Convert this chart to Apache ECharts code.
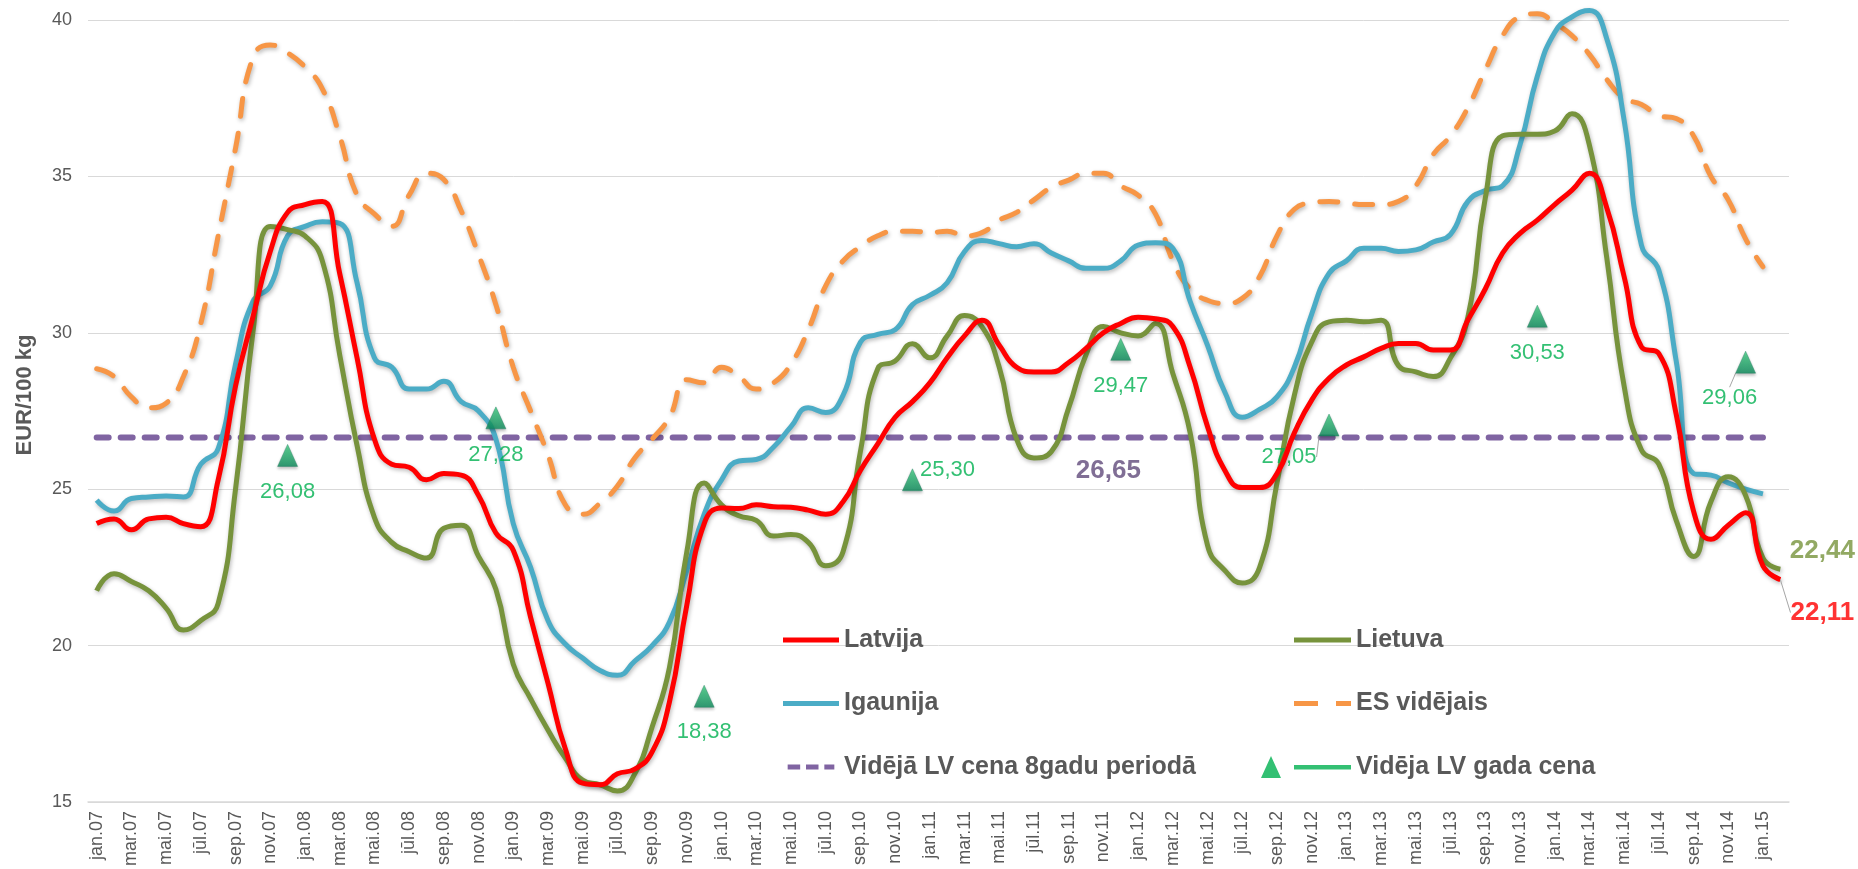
<!DOCTYPE html>
<html>
<head>
<meta charset="utf-8">
<title>Cūkgaļas iepirkuma cenas</title>
<script src="https://cdn.jsdelivr.net/npm/echarts@6.0.0/dist/echarts.min.js"></script>
<style>
  html, body { margin: 0; padding: 0; background: #fff; }
  #chart { width: 1858px; height: 869px; }
</style>
</head>
<body>
<div id="chart"></div>
<script>
// kategorijas: jan.07 ... feb.15
const monthNames = ['jan', 'feb', 'mar', 'apr', 'mai', 'jūn', 'jūl', 'aug', 'sep', 'okt', 'nov', 'dec']
const years = ['07', '08', '09', '10', '11', '12', '13', '14', '15']
const months = []
years.forEach(y => monthNames.forEach(m => months.push(m + '.' + y)))
months.length = 98

const latvija = [
  23.9, 24.05, 23.7, 24.05, 24.1, 23.9, 23.8, 25.3, 28.3, 30.5, 32.6, 33.85,
  34.1, 34.2, 31.9, 29.2, 26.6, 25.8, 25.7, 25.3, 25.5, 25.45, 24.8, 23.6,
  23.05, 20.9, 18.8, 16.7, 15.6, 15.55, 15.9, 16.05, 16.6, 18.2, 21.3, 23.9,
  24.4, 24.38, 24.5, 24.44, 24.42, 24.33, 24.2, 24.6, 25.6, 26.45, 27.3, 27.8,
  28.4, 29.2, 29.9, 30.4, 29.6, 28.9, 28.75, 28.75, 29.05, 29.5, 30.0, 30.3,
  30.5, 30.45, 30.2, 28.9, 27.0, 25.6, 25.05, 25.05, 25.5, 26.8, 27.85, 28.55,
  28.97, 29.23, 29.5, 29.66, 29.66, 29.45, 29.45, 30.41, 31.4, 32.55, 33.18, 33.6,
  34.1, 34.56, 35.1, 34.0, 31.8, 29.55, 29.34, 27.4, 24.3, 23.4, 23.85, 24.25,
  22.55, 22.11
]
const lietuva = [
  21.75, 22.3, 22.05, 21.75, 21.2, 20.5, 20.8, 21.35, 25.0, 30.0, 33.4, 33.3,
  33.1, 32.3, 29.3, 26.4, 24.1, 23.3, 23.0, 22.8, 23.75, 23.85, 22.85, 21.8,
  19.4, 18.3, 17.3, 16.4, 15.7, 15.55, 15.35, 15.9, 17.4, 19.3, 23.0, 25.2,
  24.5, 24.15, 24.0, 23.5, 23.55, 23.3, 22.55, 23.0, 26.2, 28.85, 29.1, 29.65,
  29.2, 29.9, 30.55, 30.2, 28.9, 26.6, 26.0, 26.2, 27.6, 29.3, 30.2, 30.0,
  29.9, 30.3, 28.7, 26.8, 23.2, 22.4, 22.0, 22.5, 25.2, 28.0, 29.7, 30.35,
  30.4, 30.35, 30.4, 28.95, 28.75, 28.6, 29.2, 30.5, 34.3, 36.3, 36.35, 36.35,
  36.45, 37.0, 36.0, 32.4, 28.3, 26.25, 25.8, 24.0, 22.85, 24.6, 25.4, 24.8,
  22.8, 22.44
]
const igaunija = [
  24.65, 24.3, 24.7, 24.75, 24.78, 24.75, 25.8, 26.3, 29.0, 31.0, 31.5, 33.1,
  33.4, 33.55, 33.5, 31.6, 29.2, 28.9, 28.2, 28.2, 28.45, 27.8, 27.5, 26.6,
  23.9, 22.5, 20.8, 20.05, 19.6, 19.2, 19.05, 19.5, 20.0, 20.75, 22.4, 24.2,
  25.3, 25.9, 25.95, 26.35, 27.0, 27.6, 27.45, 28.0, 29.7, 29.95, 30.1, 30.9,
  31.2, 31.6, 32.6, 32.95, 32.85, 32.75, 32.85, 32.55, 32.3, 32.06, 32.06, 32.3,
  32.8, 32.88, 32.7, 31.0, 29.6, 28.1, 27.3, 27.55, 27.95, 28.9, 30.6, 31.9,
  32.3, 32.7, 32.7, 32.6, 32.65, 32.9, 33.15, 34.2, 34.55, 34.7, 36.0, 38.2,
  39.6, 40.1, 40.3, 39.4, 36.8, 32.8, 32.0, 29.1, 25.5, 25.45, 25.2, 25.0,
  24.85
]
const esVidejais = [
  28.85, 28.6, 27.95, 27.6, 27.75, 28.6, 30.3, 33.1, 35.9, 38.8, 39.2, 38.95,
  38.5, 37.8, 36.3, 34.4, 33.8, 33.4, 34.4, 35.1, 34.9, 33.9, 32.5, 30.9,
  28.9, 27.5, 26.1, 24.5, 24.2, 24.55, 25.1, 26.0, 26.6, 27.3, 28.5, 28.4,
  28.9, 28.6, 28.2, 28.4, 29.0, 30.1, 31.5, 32.3, 32.75, 33.1, 33.25, 33.25,
  33.2, 33.25, 33.1, 33.2, 33.6, 33.85, 34.25, 34.65, 34.88, 35.1, 35.1, 34.7,
  34.4, 33.8, 32.3, 31.4, 31.04, 30.94, 31.1, 31.8, 33.1, 33.95, 34.15, 34.2,
  34.15, 34.1, 34.1, 34.2, 34.7, 35.7, 36.3, 37.2, 38.4, 39.5, 40.1, 40.2,
  39.9, 39.5, 38.9, 38.1, 37.5, 37.3, 36.95, 36.85, 36.3, 35.0, 34.25, 33.0,
  32.11
]
// gada vidējās LV cenas
const annualMonths = ['dec.07', 'dec.08', 'dec.09', 'dec.10', 'dec.11', 'dec.12', 'dec.13', 'dec.14']
const annualValues = [26.08, 27.28, 18.38, 25.30, 29.47, 27.05, 30.53, 29.06]
const lvAverage = 26.65

// etiķešu nobīdes (px) gada cenām, ar līniju pie 2012. un 2014.
const annualLabelShift = [[0, 37], [0, 37], [0, 36], [35, -10], [0, 37], [-40, 32], [0, 37], [-16, 36]]
const annualLeader = [false, false, false, false, false, true, false, true]

const fmt = v => v.toFixed(2).replace('.', ',')
const font = "'Liberation Sans', Arial, sans-serif"
const shadow = {shadowColor: 'rgba(0,0,0,0.28)', shadowBlur: 4, shadowOffsetX: 1, shadowOffsetY: 2}
const legendText = {fontSize: 25, fontWeight: 'bold', color: '#595959', lineHeight: 30, fontFamily: font}

// tikai etiķete vienam punktam
const labelPoint = (x, y, color, dx, dy, leader) => ({
  type: 'scatter',
  symbolSize: 1,
  itemStyle: {color: 'rgba(0,0,0,0)'},
  z: 7,
  label: {
    show: true, position: 'inside', formatter: p => fmt(p.value[1]),
    color: color, fontSize: 26, fontWeight: 'bold', fontFamily: font
  },
  labelLayout: {dx: dx, dy: dy},
  labelLine: {show: leader, lineStyle: {color: '#A6A6A6', width: 1}},
  data: [[x, y]]
})

const myChart = echarts.init(document.getElementById('chart'))

myChart.setOption({
  animation: false,
  backgroundColor: '#fff',
  textStyle: {fontFamily: font},
  grid: {left: 88, right: 69, top: 20, bottom: 67},
  legend: [{
    orient: 'vertical', left: 778, top: 620,
    itemWidth: 56, itemHeight: 5, itemGap: 33.5,
    textStyle: legendText,
    data: [
      {name: 'Latvija', icon: 'path://M0,0 L56,0 L56,5 L0,5 Z'},
      {name: 'Igaunija', icon: 'path://M0,0 L56,0 L56,5 L0,5 Z'},
      {name: 'Vidējā LV cena 8gadu periodā',
       icon: 'path://M0,0 L15,0 L15,6 L0,6 Z M22,0 L37,0 L37,6 L22,6 Z M44,0 L56,0 L56,6 L44,6 Z'}
    ]
  }, {
    orient: 'vertical', left: 1289, top: 620,
    itemWidth: 57, itemHeight: 5, itemGap: 33.5,
    textStyle: legendText,
    data: [
      {name: 'Lietuva', icon: 'path://M0,0 L57,0 L57,5 L0,5 Z'},
      {name: 'ES vidējais', icon: 'path://M0,0 L24,0 L24,5 L0,5 Z M42,0 L57,0 L57,5 L42,5 Z'}
    ]
  }, {
    orient: 'vertical', left: 1256, top: 747,
    itemWidth: 90, itemHeight: 22,
    textStyle: legendText,
    data: [{
      name: 'Vidēja LV gada cena',
      icon: 'path://M0,22 L10,0 L20,22 Z M33,9 L90,9 L90,13.5 L33,13.5 Z',
      itemStyle: {color: '#00B050', borderWidth: 0}
    }]
  }],
  xAxis: {
    type: 'category',
    data: months,
    boundaryGap: true,
    axisLine: {lineStyle: {color: '#D9D9D9', width: 1.5}},
    axisTick: {interval: 1, length: 6, lineStyle: {color: '#D9D9D9'}},
    axisLabel: {interval: 1, rotate: 90, margin: 9, fontSize: 18, color: '#595959'},
    splitLine: {show: false}
  },
  yAxis: {
    type: 'value',
    min: 15, max: 40, interval: 5,
    name: 'EUR/100 kg',
    nameLocation: 'middle',
    nameGap: 52,
    nameTextStyle: {fontSize: 22, fontWeight: 'bold', color: '#595959', padding: [0, 0, 0, 32]},
    axisLine: {show: false},
    axisTick: {show: false},
    axisLabel: {fontSize: 18, color: '#595959', margin: 16},
    splitLine: {lineStyle: {color: '#D9D9D9', width: 1}}
  },
  series: [{
    name: 'Vidējā LV cena 8gadu periodā',
    type: 'line',
    symbol: 'none',
    z: 1,
    clip: false,
    lineStyle: {color: '#8064A2', width: 6, type: [12, 12], cap: 'round'},
    itemStyle: {color: '#8064A2'},
    data: [[months[0], lvAverage], [months[96], lvAverage]]
  }, {
    name: 'ES vidējais',
    type: 'line',
    smooth: true,
    symbol: 'none',
    clip: false,
    z: 2,
    lineStyle: Object.assign({color: '#F79646', width: 5, type: [18, 17], cap: 'round'}, shadow),
    itemStyle: {color: '#F79646'},
    data: esVidejais
  }, {
    name: 'Igaunija',
    type: 'line',
    smooth: true,
    symbol: 'none',
    clip: false,
    z: 3,
    lineStyle: Object.assign({color: '#4BACC6', width: 5}, shadow),
    itemStyle: {color: '#4BACC6'},
    data: igaunija
  }, {
    name: 'Lietuva',
    type: 'line',
    smooth: true,
    symbol: 'none',
    clip: false,
    z: 4,
    lineStyle: Object.assign({color: '#77933C', width: 5}, shadow),
    itemStyle: {color: '#77933C'},
    data: lietuva
  }, {
    name: 'Latvija',
    type: 'line',
    smooth: true,
    symbol: 'none',
    clip: false,
    z: 5,
    lineStyle: Object.assign({color: '#FF0000', width: 5}, shadow),
    itemStyle: {color: '#FF0000'},
    data: latvija
  }, {
    name: 'Vidēja LV gada cena',
    type: 'scatter',
    symbol: 'triangle',
    symbolSize: [20, 22],
    z: 6,
    itemStyle: {
      color: new echarts.graphic.LinearGradient(0, 0, 0, 1, [
        {offset: 0, color: '#3fd483'},
        {offset: 1, color: '#0a8a5a'}
      ]),
      borderColor: '#1f7a5c', borderWidth: 0.5,
      shadowColor: 'rgba(0,0,0,0.3)', shadowBlur: 3, shadowOffsetY: 2
    },
    label: {
      show: true, position: 'inside', formatter: p => fmt(p.value[1]),
      color: '#00B050', fontSize: 22, fontFamily: font
    },
    labelLayout: p => ({dx: annualLabelShift[p.dataIndex][0], dy: annualLabelShift[p.dataIndex][1]}),
    labelLine: {show: false, lineStyle: {color: '#A6A6A6', width: 1}},
    data: annualMonths.map((m, k) => ({
      value: [m, annualValues[k]],
      labelLine: {show: annualLeader[k]}
    }))
  },
    labelPoint(months[58], lvAverage, '#604A7B', 5, 33, false),
    labelPoint(months[97], lietuva[97], '#77933C', 42, -18, false),
    labelPoint(months[97], latvija[97], '#FF0000', 42, 33, true)
  ]
})
</script>
</body>
</html>
